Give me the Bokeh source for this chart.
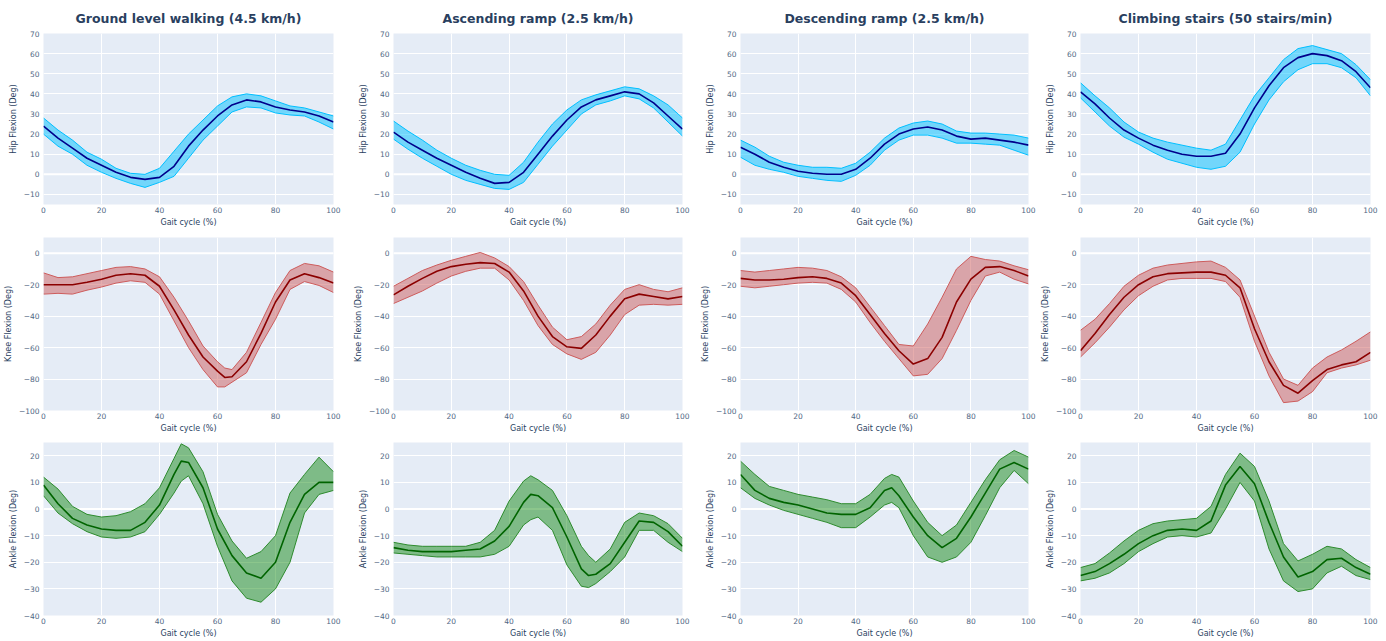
from bokeh.plotting import figure
from bokeh.layouts import gridplot
from bokeh.models import FixedTicker, Range1d, Span, CustomJSTickFormatter
from bokeh.embed import file_html
from bokeh.resources import INLINE

# Gait cycle sample points (%); a few panels carry extra samples around sharp peaks
gait_cycle = [0, 5, 10, 15, 20, 25, 30, 35, 40, 45, 50, 55, 60, 65, 70, 75, 80, 85, 90, 95, 100]
knee_walk_x = [0, 5, 10, 15, 20, 25, 30, 35, 40, 45, 50, 55, 60, 62.5, 65, 70, 75, 80, 85, 90, 95, 100]
ankle_walk_x = [0, 5, 10, 15, 20, 25, 30, 35, 40, 45, 47.5, 50, 55, 60, 65, 70, 75, 80, 85, 90, 95, 100]
ankle_up_x = [0, 5, 10, 15, 20, 25, 30, 35, 40, 45, 47.5, 50, 55, 60, 65, 67.5, 70, 75, 80, 85, 90, 95, 100]
ankle_down_x = [0, 5, 10, 15, 20, 25, 30, 35, 40, 45, 50, 52.5, 55, 60, 65, 70, 75, 80, 85, 90, 95, 100]

activities = [
    "Ground level walking (4.5 km/h)",
    "Ascending ramp (2.5 km/h)",
    "Descending ramp (2.5 km/h)",
    "Climbing stairs (50 stairs/min)",
]
joint_labels = ["Hip Flexion (Deg)", "Knee Flexion (Deg)", "Ankle Flexion (Deg)"]
x_axis_label = "Gait cycle (%)"

x_ticks = [0, 20, 40, 60, 80, 100]
hip_ticks = [-10, 0, 10, 20, 30, 40, 50, 60, 70]
knee_ticks = [-100, -80, -60, -40, -20, 0]
ankle_ticks = [-40, -30, -20, -10, 0, 10, 20]

# ---- Hip flexion: mean and mean ± SD ----
hip_walk_mean = [24, 18, 13, 8, 4.5, 1, -1.5, -2.5, -1.5, 4, 14, 22, 29, 34.5, 37, 36, 33.5, 32, 31, 29, 26]
hip_walk_hi = [28, 22, 17, 11, 7.5, 3, 0.5, 0, 3, 11.5, 20, 27, 34, 38.5, 40, 39, 36.5, 34, 33, 31, 29]
hip_walk_lo = [20, 14, 10, 4.5, 1, -2, -4.5, -6.5, -4, -1, 8, 17, 24, 31, 33.5, 33, 30.5, 29.5, 29, 26, 22.5]

hip_up_mean = [21, 16, 12, 8, 4.5, 1, -2, -4.5, -4, 1, 10, 19, 27, 33.5, 37, 39, 41, 40, 35.5, 29, 22.5]
hip_up_hi = [26.5, 21.5, 17, 12, 8, 4.5, 2, 0, -0.5, 6, 16, 25, 32, 37, 39.5, 41.5, 43.5, 42.5, 39, 34.5, 28]
hip_up_lo = [17.5, 12.5, 8, 4, 0, -3, -5, -7, -7.5, -4, 5, 14, 22, 30, 34.5, 36.5, 39, 37.5, 33, 26, 19]

hip_down_mean = [13.5, 10, 6, 3.5, 1.5, 0.5, 0, 0, 2.5, 8, 15, 20, 22.5, 23.5, 22, 19, 17.5, 18, 17, 16, 14.5]
hip_down_hi = [17, 13.5, 9, 6, 4.5, 3.5, 3.5, 3, 5.5, 11, 18, 23, 25.5, 26.5, 25, 21.5, 20.5, 20.5, 20, 19.5, 18]
hip_down_lo = [8.5, 4.5, 2.5, 1, -1, -2, -3, -3.5, -0.5, 4.5, 12, 17, 19.5, 19.5, 18, 15.5, 15.5, 15, 14.5, 12, 9.5]

hip_stairs_mean = [41, 35, 28, 22, 18, 14.5, 12, 10, 9, 9, 10.5, 20, 33, 44, 53, 58, 60, 59, 56.5, 51, 43]
hip_stairs_hi = [45.5, 39, 33, 26, 21, 18, 16, 14.5, 13, 12, 15, 27, 39, 48, 57, 62.5, 64, 62, 60, 54.5, 47]
hip_stairs_lo = [38, 31, 24, 18.5, 15, 11, 7.5, 5.5, 3.5, 2.5, 4, 11, 25, 37, 46, 52, 55, 55, 53, 48, 39]

# ---- Knee flexion ----
knee_walk_mean = [-20, -20, -20, -18.5, -16.5, -14, -13, -14, -21, -36, -52, -66, -75, -79, -78.5, -69, -51, -31, -17, -13, -15.5, -19]
knee_walk_hi = [-12.5, -15.5, -15, -13, -11, -9, -8.5, -10, -15, -28, -43, -59, -69, -73, -74, -63, -44, -25, -11, -6.5, -8, -12]
knee_walk_lo = [-26, -25.5, -26, -23.5, -21.5, -19, -17.5, -18.5, -26, -43, -60, -74, -85, -85, -82, -76, -58, -42, -23, -18, -20.5, -25]

knee_up_mean = [-26.5, -21, -16, -11.5, -8.5, -7, -6, -6.5, -12, -24, -40, -53, -59.5, -60.5, -52, -40, -29, -26, -27.5, -29, -27.5]
knee_up_hi = [-21, -16, -11, -7.5, -4.5, -2, 0.5, -3, -8.5, -18, -33, -47, -55, -53, -45, -33, -23, -20, -23, -24.5, -22]
knee_up_lo = [-32, -28, -24, -19, -14.5, -11.5, -9.5, -9.5, -17, -30, -46, -58, -64, -67.5, -63, -52, -39, -33, -32.5, -33, -32.5]

knee_down_mean = [-16, -17, -17, -16.5, -15.5, -15, -16, -19, -27, -39, -51, -62, -70.5, -67, -53.5, -31, -16.5, -9, -8.5, -11, -14.5]
knee_down_hi = [-11, -12, -11, -10, -9, -9.5, -11, -15, -22, -34, -46, -58, -59, -45, -28, -10, -2, -4, -5, -8, -10.5]
knee_down_lo = [-21, -22, -21, -20, -19, -18.5, -19, -23, -31, -44, -56, -67, -78, -77, -67, -49, -30, -14.5, -12, -16.5, -19.5]

knee_stairs_mean = [-62, -51, -39, -28, -20, -15, -13, -12.5, -12, -12, -14, -22, -48, -69, -84, -89, -81, -74, -71, -69, -63]
knee_stairs_hi = [-49, -42, -32, -21, -14, -9.5, -7.5, -6.5, -5.5, -5, -9, -17, -40, -63, -80, -84, -73, -66, -61.5, -56, -50]
knee_stairs_lo = [-66, -57, -47, -36, -27, -21, -17, -16, -16, -16, -18, -28, -56, -78, -95, -94, -88, -76, -73, -71, -68]

# ---- Ankle flexion ----
ankle_walk_mean = [9, 2, -3.5, -6, -7.5, -8, -8, -5, 1.5, 13, 18, 17.5, 8, -7.5, -17.5, -24, -26, -20, -5, 5.5, 10, 10]
ankle_walk_hi = [12, 7.5, 1, -2, -3, -2.5, -1, 2, 8, 19, 24.5, 23, 14, -2, -12, -18.5, -16, -10, 6, 13, 19.5, 14]
ankle_walk_lo = [5, -1.5, -5.5, -8.5, -10.5, -11, -10.5, -8.5, -2, 6, 10.5, 12.5, 2, -14, -27, -33.5, -35, -30, -20, -1.5, 5.5, 7]

ankle_up_mean = [-14.5, -15.5, -16, -16, -16, -15.5, -15, -12, -6.5, 2.5, 5.5, 5, 0.5, -10.5, -22.5, -25, -24.5, -20.5, -12.5, -4.5, -5, -8.5, -14]
ankle_up_hi = [-12.5, -13.5, -14, -14, -14, -14, -12.5, -8, 3, 10.5, 12.5, 11, 7, -2.5, -14, -17.5, -20, -15, -5, -1.5, -2.5, -5.5, -11]
ankle_up_lo = [-16.5, -17, -17.5, -18, -18, -18, -18, -17, -14, -6, -4, -3, -8, -21, -29, -29.5, -28, -23.5, -18, -8, -8, -12.5, -16]

ankle_down_mean = [13, 7, 4, 2.5, 1.5, 0, -1.5, -2, -2, 0.5, 7, 8, 5, -3, -10, -14.5, -11, -3, 6, 15, 17.5, 15]
ankle_down_hi = [18, 13, 8.5, 7, 5.5, 4.5, 3.5, 2, 2, 5.5, 11.5, 13, 12, 3, -5, -10, -6, 2.5, 11, 18.5, 22, 19.5]
ankle_down_lo = [8, 4, 1.5, -0.5, -2, -3.5, -5, -7, -7, -3, 1.5, 2.5, 0.5, -10, -18, -20, -18, -12.5, -2.5, 8, 14.5, 9.5]

ankle_stairs_mean = [-25, -23.5, -20.5, -17, -13, -10, -8, -7.5, -8, -4.5, 9, 16, 9.5, -5, -18, -25.5, -23.5, -19, -18.5, -22, -24.5]
ankle_stairs_hi = [-22, -20.5, -16.5, -12, -8, -5.5, -4.5, -4, -3.5, 1, 13, 21, 16, 3, -13, -19.5, -17, -14, -15, -19, -22]
ankle_stairs_lo = [-27, -26, -24, -20.5, -16, -13, -10.5, -10, -10.5, -9, 0, 10, 3, -15, -27, -31, -30, -24, -21.5, -25, -26.5]

hip_series = [
    (gait_cycle, hip_walk_mean, hip_walk_hi, hip_walk_lo),
    (gait_cycle, hip_up_mean, hip_up_hi, hip_up_lo),
    (gait_cycle, hip_down_mean, hip_down_hi, hip_down_lo),
    (gait_cycle, hip_stairs_mean, hip_stairs_hi, hip_stairs_lo),
]
knee_series = [
    (knee_walk_x, knee_walk_mean, knee_walk_hi, knee_walk_lo),
    (gait_cycle, knee_up_mean, knee_up_hi, knee_up_lo),
    (gait_cycle, knee_down_mean, knee_down_hi, knee_down_lo),
    (gait_cycle, knee_stairs_mean, knee_stairs_hi, knee_stairs_lo),
]
ankle_series = [
    (ankle_walk_x, ankle_walk_mean, ankle_walk_hi, ankle_walk_lo),
    (ankle_up_x, ankle_up_mean, ankle_up_hi, ankle_up_lo),
    (ankle_down_x, ankle_down_mean, ankle_down_hi, ankle_down_lo),
    (gait_cycle, ankle_stairs_mean, ankle_stairs_hi, ankle_stairs_lo),
]

# Per-joint styling: band fill, band alpha, band edge, mean line, y range, ticks
row_styles = [
    dict(series=hip_series, fill="#00BFFF", alpha=0.5, edge="#00BFFF", mean="#00008B",
         yr=(-15, 70), ticks=hip_ticks),
    dict(series=knee_series, fill="#CD5C5C", alpha=0.5, edge="#CD5C5C", mean="#8B0000",
         yr=(-100, 10), ticks=knee_ticks),
    dict(series=ankle_series, fill="#008000", alpha=0.45, edge="#2E8B2E", mean="#006400",
         yr=(-40, 25), ticks=ankle_ticks),
]

# Pixel layout of the 3 x 4 grid
col_w = [350, 347, 340, 349]
col_left = [41, 40, 40, 40]
col_right = [17, 15, 9, 16]
row_h = [232, 206, 203]
row_top = [32, 5, 4]
row_bottom = [28, 28, 26]

FONT = "DejaVu Sans"
TEXT = "#2a3f5f"
BG = "#E5ECF6"

minus_fmt = "return tick < 0 ? '\u2212' + Math.abs(tick) : String(tick);"


def style_axis(ax, label, label_standoff, title_standoff):
    ax.axis_label = label
    ax.axis_label_text_font = FONT
    ax.axis_label_text_font_size = "8px"
    ax.axis_label_text_font_style = "normal"
    ax.axis_label_text_color = TEXT
    ax.axis_label_standoff = title_standoff
    ax.major_label_text_font = FONT
    ax.major_label_text_font_size = "7.5px"
    ax.major_label_text_color = "#506784"
    ax.major_label_standoff = label_standoff
    ax.axis_line_color = None
    ax.major_tick_line_color = None
    ax.minor_tick_line_color = None
    ax.major_tick_out = 0
    ax.major_tick_in = 0
    ax.minor_tick_out = 0
    ax.minor_tick_in = 0


rows = []
for r, st in enumerate(row_styles):
    row_figs = []
    for c in range(4):
        xs, mean, hi, lo = st["series"][c]
        p = figure(
            width=col_w[c], height=row_h[r],
            x_range=Range1d(0, 100), y_range=Range1d(*st["yr"]),
            output_backend="svg", toolbar_location=None,
            min_border_left=col_left[c], min_border_right=col_right[c],
            min_border_top=row_top[r], min_border_bottom=row_bottom[r],
            background_fill_color=BG, border_fill_color="white",
            outline_line_color=None,
            title=activities[c] if r == 0 else None,
        )
        if r == 0:
            p.title.text_font = FONT
            p.title.text_font_size = "12.5px"
            p.title.text_font_style = "bold"
            p.title.text_color = TEXT
            p.title.align = "center"
            p.title.standoff = 16

        p.xaxis.ticker = FixedTicker(ticks=x_ticks)
        p.yaxis.ticker = FixedTicker(ticks=st["ticks"])
        p.yaxis.formatter = CustomJSTickFormatter(code=minus_fmt)
        style_axis(p.xaxis[0], x_axis_label, 2, 2)
        style_axis(p.yaxis[0], joint_labels[r], 4, 3)
        p.grid.grid_line_color = "white"
        p.grid.grid_line_width = 1

        zero = Span(location=0, dimension="width", line_color="white", line_width=2, level="underlay")
        p.add_layout(zero)

        p.varea(x=xs, y1=lo, y2=hi, fill_color=st["fill"], fill_alpha=st["alpha"])
        p.line(xs, hi, line_color=st["edge"], line_width=1)
        p.line(xs, lo, line_color=st["edge"], line_width=1)
        p.line(xs, mean, line_color=st["mean"], line_width=1.6)
        row_figs.append(p)
    rows.append(row_figs)

grid = gridplot(rows, toolbar_location=None)

with open("out.html", "w") as f:
    f.write(file_html(grid, INLINE, title="Joint kinematics"))
